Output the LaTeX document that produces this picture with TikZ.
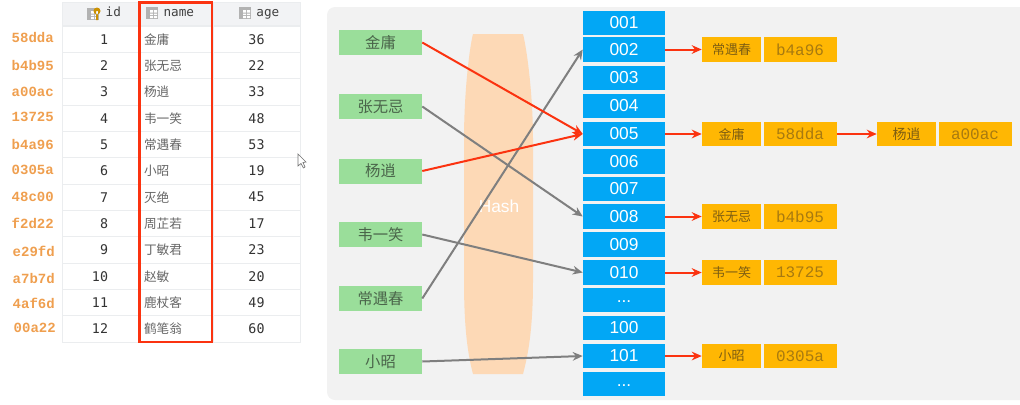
\documentclass[tikz,border=0pt]{standalone}
\usepackage{xcolor}
\usepackage{fontspec}
\usepackage{tikz}
\usetikzlibrary{positioning,shapes,arrows.meta}
\setmainfont{Liberation Sans}
\setmonofont{Liberation Mono}
\newfontfamily\cjk{Noto Sans CJK SC}
\newfontfamily\dbmono{DejaVu Sans Mono}
\definecolor{panelgray}{HTML}{F2F2F2}
\definecolor{hashorange}{HTML}{FDD9B6}
\definecolor{keygreen}{HTML}{9ADE9A}
\definecolor{keytext}{HTML}{4A654A}
\definecolor{slotblue}{HTML}{02A7F5}
\definecolor{bucketamber}{HTML}{FFB703}
\definecolor{nametext}{HTML}{7E5E12}
\definecolor{valuetext}{HTML}{A87A10}
\definecolor{linered}{HTML}{FB3310}
\definecolor{linegray}{HTML}{7F7F7F}
\definecolor{gridgray}{HTML}{EBEDEF}
\definecolor{headgray}{HTML}{F2F3F5}
\definecolor{addrorange}{HTML}{EF9F4F}
\tikzset{
    keybox/.style={fill=keygreen, text=keytext, font=\cjk\fontsize{11.5}{13}\selectfont, inner sep=0pt, minimum width=62.25pt, minimum height=18.75pt},
    slotbox/.style={fill=slotblue, text=white, font=\fontsize{13}{15}\selectfont, inner sep=0pt, minimum width=61.5pt, minimum height=18.4pt},
    namebox/.style={fill=bucketamber, text=nametext, font=\cjk\fontsize{9.75}{12}\selectfont, inner sep=0pt, minimum width=44.25pt, minimum height=18.4pt},
    valuebox/.style={fill=bucketamber, text=valuetext, font=\ttfamily\fontsize{12}{14}\selectfont, inner sep=0pt, minimum width=54.75pt, minimum height=18.4pt},
    addr/.style={text=addrorange, font=\ttfamily\bfseries\fontsize{10.5}{12}\selectfont, anchor=east, inner sep=0pt},
    headcell/.style={draw=gridgray, fill=headgray, text=black!75, font=\dbmono\fontsize{9.5}{11}\selectfont, inner sep=0pt, text height=7pt, text depth=2pt, minimum height=17.25pt},
    numcell/.style={draw=gridgray, fill=white, text=black!80, font=\dbmono\fontsize{10}{12}\selectfont, inner sep=0pt, minimum height=19.75pt},
    namecell/.style={draw=gridgray, fill=white, text=black!60, font=\cjk\fontsize{9.5}{11}\selectfont, inner xsep=4.5pt, inner ysep=0pt, text width=47.25pt, align=left, minimum height=19.75pt},
    redline/.style={->, draw=linered, line width=1.5pt},
    grayline/.style={->, draw=linegray, line width=1.5pt},
    tableicon/.pic={
        \fill[black!30] (-6,-6) rectangle (6,6);
        \fill[white] (-2,-3) rectangle (1,-0.5) (2,-3) rectangle (5,-0.5) (-2,0.5) rectangle (1,2) (2,0.5) rectangle (5,2) (-2,3) rectangle (1,5) (2,3) rectangle (5,5);
    },
}

\begin{document}
\begin{tikzpicture}[x=0.75pt, y=-0.75pt, >={Stealth[length=7.5pt,width=6.5pt]}]
    \useasboundingbox (0,0) rectangle (1020,404);

    % table
    \node[headcell, minimum width=57pt] (hid) at (100,13.5) {\hspace{20pt}id};
    \node[headcell, minimum width=56.25pt] (hname) at (175.5,13.5) {\hspace{5pt}name};
    \node[headcell, minimum width=65.25pt] (hage) at (256.5,13.5) {\hspace{17pt}age};
    \pic at (93,14) {tableicon};
    \fill[bucketamber!80!black] (97,11) circle (3.5) (96,11) rectangle (98,20);
    \pic at (152,13) {tableicon};
    \pic at (245,13) {tableicon};

    \node[numcell, minimum width=57pt] (id1) at (100,39.2) {\hphantom{0}1};
    \node[numcell, minimum width=57pt] (id2) at (100,65.5) {\hphantom{0}2};
    \node[numcell, minimum width=57pt] (id3) at (100,91.8) {\hphantom{0}3};
    \node[numcell, minimum width=57pt] (id4) at (100,118.2) {\hphantom{0}4};
    \node[numcell, minimum width=57pt] (id5) at (100,144.5) {\hphantom{0}5};
    \node[numcell, minimum width=57pt] (id6) at (100,170.8) {\hphantom{0}6};
    \node[numcell, minimum width=57pt] (id7) at (100,197.2) {\hphantom{0}7};
    \node[numcell, minimum width=57pt] (id8) at (100,223.5) {\hphantom{0}8};
    \node[numcell, minimum width=57pt] (id9) at (100,249.8) {\hphantom{0}9};
    \node[numcell, minimum width=57pt] (id10) at (100,276.2) {10};
    \node[numcell, minimum width=57pt] (id11) at (100,302.5) {11};
    \node[numcell, minimum width=57pt] (id12) at (100,328.8) {12};

    \node[namecell] (name1) at (175.5,39.2) {金庸};
    \node[namecell] (name2) at (175.5,65.5) {张无忌};
    \node[namecell] (name3) at (175.5,91.8) {杨逍};
    \node[namecell] (name4) at (175.5,118.2) {韦一笑};
    \node[namecell] (name5) at (175.5,144.5) {常遇春};
    \node[namecell] (name6) at (175.5,170.8) {小昭};
    \node[namecell] (name7) at (175.5,197.2) {灭绝};
    \node[namecell] (name8) at (175.5,223.5) {周芷若};
    \node[namecell] (name9) at (175.5,249.8) {丁敏君};
    \node[namecell] (name10) at (175.5,276.2) {赵敏};
    \node[namecell] (name11) at (175.5,302.5) {鹿杖客};
    \node[namecell] (name12) at (175.5,328.8) {鹤笔翁};

    \node[numcell, minimum width=65.25pt] (age1) at (256.5,39.2) {36};
    \node[numcell, minimum width=65.25pt] (age2) at (256.5,65.5) {22};
    \node[numcell, minimum width=65.25pt] (age3) at (256.5,91.8) {33};
    \node[numcell, minimum width=65.25pt] (age4) at (256.5,118.2) {48};
    \node[numcell, minimum width=65.25pt] (age5) at (256.5,144.5) {53};
    \node[numcell, minimum width=65.25pt] (age6) at (256.5,170.8) {19};
    \node[numcell, minimum width=65.25pt] (age7) at (256.5,197.2) {45};
    \node[numcell, minimum width=65.25pt] (age8) at (256.5,223.5) {17};
    \node[numcell, minimum width=65.25pt] (age9) at (256.5,249.8) {23};
    \node[numcell, minimum width=65.25pt] (age10) at (256.5,276.2) {20};
    \node[numcell, minimum width=65.25pt] (age11) at (256.5,302.5) {49};
    \node[numcell, minimum width=65.25pt] (age12) at (256.5,328.8) {60};

    \draw[linered, line width=1.75pt] (139.5,2.5) rectangle (212,342);

    \node[addr] (addr1) at (54,37) {58dda};
    \node[addr] (addr2) at (54,65) {b4b95};
    \node[addr] (addr3) at (54,92) {a00ac};
    \node[addr] (addr4) at (54,117) {13725};
    \node[addr] (addr5) at (54,144) {b4a96};
    \node[addr] (addr6) at (54,170) {0305a};
    \node[addr] (addr7) at (54,197) {48c00};
    \node[addr] (addr8) at (54,223) {f2d22};
    \node[addr] (addr9) at (55,251) {e29fd};
    \node[addr] (addr10) at (55,278) {a7b7d};
    \node[addr] (addr11) at (55,303) {4af6d};
    \node[addr] (addr12) at (56,328) {00a22};

    % mouse pointer
    \draw[fill=white, draw=black!55, line width=0.5pt] (298,154) -- (298,166) -- (301,163.5) -- (303.5,168) -- (305,167) -- (303,162.5) -- (306,162) -- cycle;

    % panel and hash band
    \fill[panelgray, rounded corners=6pt] (327,7) rectangle (1030,400);
    \fill[hashorange] (473,34) -- (523,34) .. controls (527,50) and (533,95) .. (533,140) -- (533,280) .. controls (533,330) and (528,355) .. (523,374) -- (473,374) .. controls (468,355) and (464,330) .. (464,280) -- (464,140) .. controls (464,95) and (469,50) .. (473,34) -- cycle;
    \node[text=white, font=\fontsize{13}{15}\selectfont] (hash) at (499,206) {Hash};

    % keys
    \node[keybox] (jinyong) at (380.5,42.5) {金庸};
    \node[keybox] (zhang) at (380.5,106.5) {张无忌};
    \node[keybox] (yang) at (380.5,171) {杨逍};
    \node[keybox] (wei) at (380.5,234.5) {韦一笑};
    \node[keybox] (chang) at (380.5,298.5) {常遇春};
    \node[keybox] (xiao) at (380.5,361.5) {小昭};

    % slots
    \node[slotbox] (s001) at (624,23) {001};
    \node[slotbox] (s002) at (624,49.5) {002};
    \node[slotbox] (s003) at (624,78) {003};
    \node[slotbox] (s004) at (624,106) {004};
    \node[slotbox] (s005) at (624,134) {005};
    \node[slotbox] (s006) at (624,161.5) {006};
    \node[slotbox] (s007) at (624,189) {007};
    \node[slotbox] (s008) at (624,216.5) {008};
    \node[slotbox] (s009) at (624,244.5) {009};
    \node[slotbox] (s010) at (624,272.5) {010};
    \node[slotbox] (sdots) at (624,300) {\raisebox{-3pt}{...}};
    \node[slotbox] (s100) at (624,328) {100};
    \node[slotbox] (s101) at (624,356) {101};
    \node[slotbox] (send) at (624,384) {\raisebox{-3pt}{...}};

    % buckets
    \node[namebox] (bchang) at (731.5,49.5) {常遇春};
    \node[valuebox, right=1.5pt of bchang] (vchang) {b4a96};
    \node[namebox] (bjin) at (731.5,134) {金庸};
    \node[valuebox, right=1.5pt of bjin] (vjin) {58dda};
    \node[namebox, font=\cjk\fontsize{10.5}{12}\selectfont] (byang) at (906.5,134) {杨逍};
    \node[valuebox, right=1.5pt of byang] (vyang) {a00ac};
    \node[namebox] (bzhang) at (731.5,216.5) {张无忌};
    \node[valuebox, right=1.5pt of bzhang] (vzhang) {b4b95};
    \node[namebox] (bwei) at (731.5,272.5) {韦一笑};
    \node[valuebox, right=1.5pt of bwei] (vwei) {13725};
    \node[namebox] (bxiao) at (731.5,356) {小昭};
    \node[valuebox, right=1.5pt of bxiao] (vxiao) {0305a};

    \draw[grayline] (zhang.east) -- (s008.west);
    \draw[grayline] (wei.east) -- (s010.west);
    \draw[grayline] (chang.east) -- (s002.west);
    \draw[grayline] (xiao.east) -- (s101.west);
    \draw[redline] (jinyong.east) -- (s005.west);
    \draw[redline] (yang.east) -- (s005.west);

    \draw[redline] (s002.east) -- (bchang.west);
    \draw[redline] (s005.east) -- (bjin.west);
    \draw[redline] (vjin.east) -- (byang.west);
    \draw[redline] (s008.east) -- (bzhang.west);
    \draw[redline] (s010.east) -- (bwei.west);
    \draw[redline] (s101.east) -- (bxiao.west);
\end{tikzpicture}
\end{document}
